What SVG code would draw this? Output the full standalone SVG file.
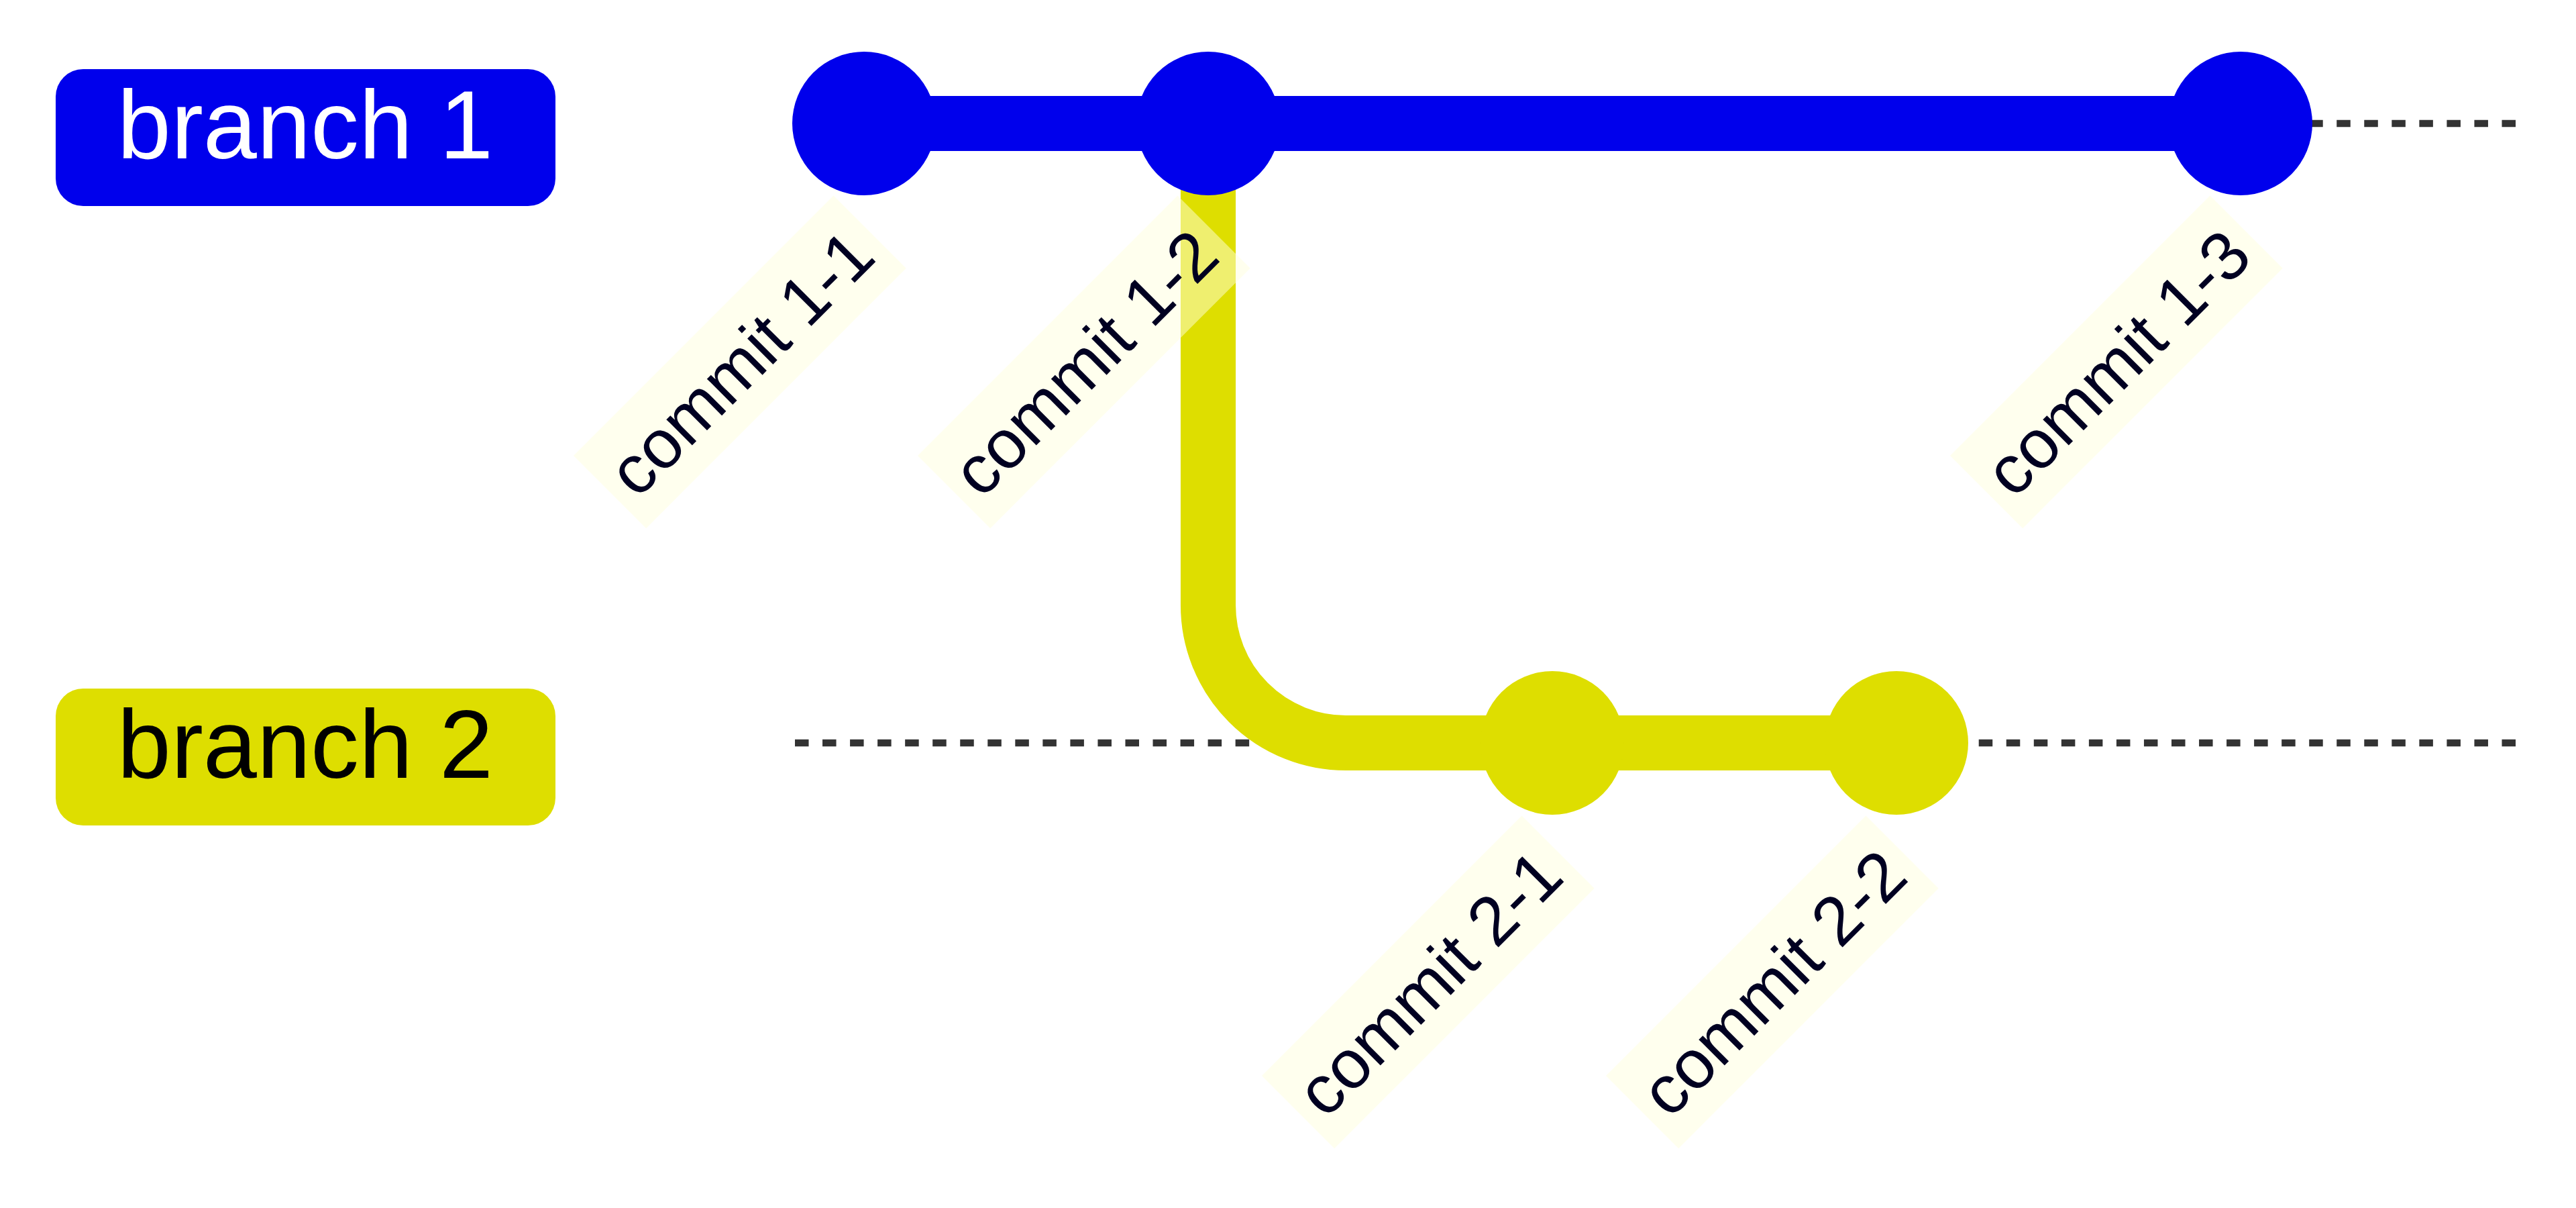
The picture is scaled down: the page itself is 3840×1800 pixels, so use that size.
<svg xmlns="http://www.w3.org/2000/svg" width="3840" height="1800" viewBox="0 0 3840 1800">
<style>
.bg{fill:#ffffff}
.branch-line{stroke:#333333;stroke-width:10.26;stroke-dasharray:20.52 20.52;fill:none}
.arrow{fill:none;stroke-width:82.1;stroke-linecap:butt}
.a0{stroke:#0000ec}
.a1{stroke:#dede00}
.c0{fill:#0000ec}
.c1{fill:#dede00}
.blbl{font-family:"Liberation Sans",Arial,sans-serif;font-size:144px;text-anchor:middle}
.lbl-bkg{fill:#ffffde;opacity:0.5}
.clbl{font-family:"Liberation Sans",Arial,sans-serif;font-size:102.6px;fill:#000021}
</style>
<rect class="bg" x="0" y="0" width="3840" height="1800"/>
<g id="branch-lines">
<line class="branch-line" x1="1185" y1="184" x2="3752" y2="184"/>
<line class="branch-line" x1="1185" y1="1107" x2="3752" y2="1107"/>
</g>
<g id="connectors">
<path class="arrow a0" d="M 1288 184 L 1801 184"/>
<path class="arrow a1" d="M 1801 184 L 1801 901.8 A 205.2 205.2 0 0 0 2006.2 1107 L 2314 1107"/>
<path class="arrow a1" d="M 2314 1107 L 2827 1107"/>
<path class="arrow a0" d="M 1801 184 L 3340 184"/>
</g>
<g id="branch-1">
<rect class="c0" x="83" y="103" width="745" height="204" rx="41" ry="41"/>
<text class="blbl" x="455" y="236" fill="#ffffff">branch 1</text>
</g>
<g id="branch-2">
<rect class="c1" x="83" y="1026" width="745" height="204" rx="41" ry="41"/>
<text class="blbl" x="455" y="1159" fill="#000000">branch 2</text>
</g>
<g id="commit-1-1">
<circle class="c0" cx="1288" cy="184" r="107"/>
</g>
<g id="commit-1-2">
<circle class="c0" cx="1801" cy="184" r="107"/>
</g>
<g id="commit-2-1">
<circle class="c1" cx="2314" cy="1107" r="107"/>
</g>
<g id="commit-2-2">
<circle class="c1" cx="2827" cy="1107" r="107"/>
</g>
<g id="commit-1-3">
<circle class="c0" cx="3340" cy="184" r="107"/>
</g>
<g id="commit-labels">
<g id="label-1-1" transform="translate(855 679) rotate(-45)">
<rect class="lbl-bkg" x="0" y="0" width="548" height="153"/>
<text class="clbl" x="20.5" y="114">commit 1-1</text>
</g>
<g id="label-1-2" transform="translate(1368 679) rotate(-45)">
<rect class="lbl-bkg" x="0" y="0" width="548" height="153"/>
<text class="clbl" x="20.5" y="114">commit 1-2</text>
</g>
<g id="label-2-1" transform="translate(1881 1603) rotate(-45)">
<rect class="lbl-bkg" x="0" y="0" width="548" height="153"/>
<text class="clbl" x="20.5" y="114">commit 2-1</text>
</g>
<g id="label-2-2" transform="translate(2394 1603) rotate(-45)">
<rect class="lbl-bkg" x="0" y="0" width="548" height="153"/>
<text class="clbl" x="20.5" y="114">commit 2-2</text>
</g>
<g id="label-1-3" transform="translate(2907 679) rotate(-45)">
<rect class="lbl-bkg" x="0" y="0" width="548" height="153"/>
<text class="clbl" x="20.5" y="114">commit 1-3</text>
</g>
</g>
</svg>
